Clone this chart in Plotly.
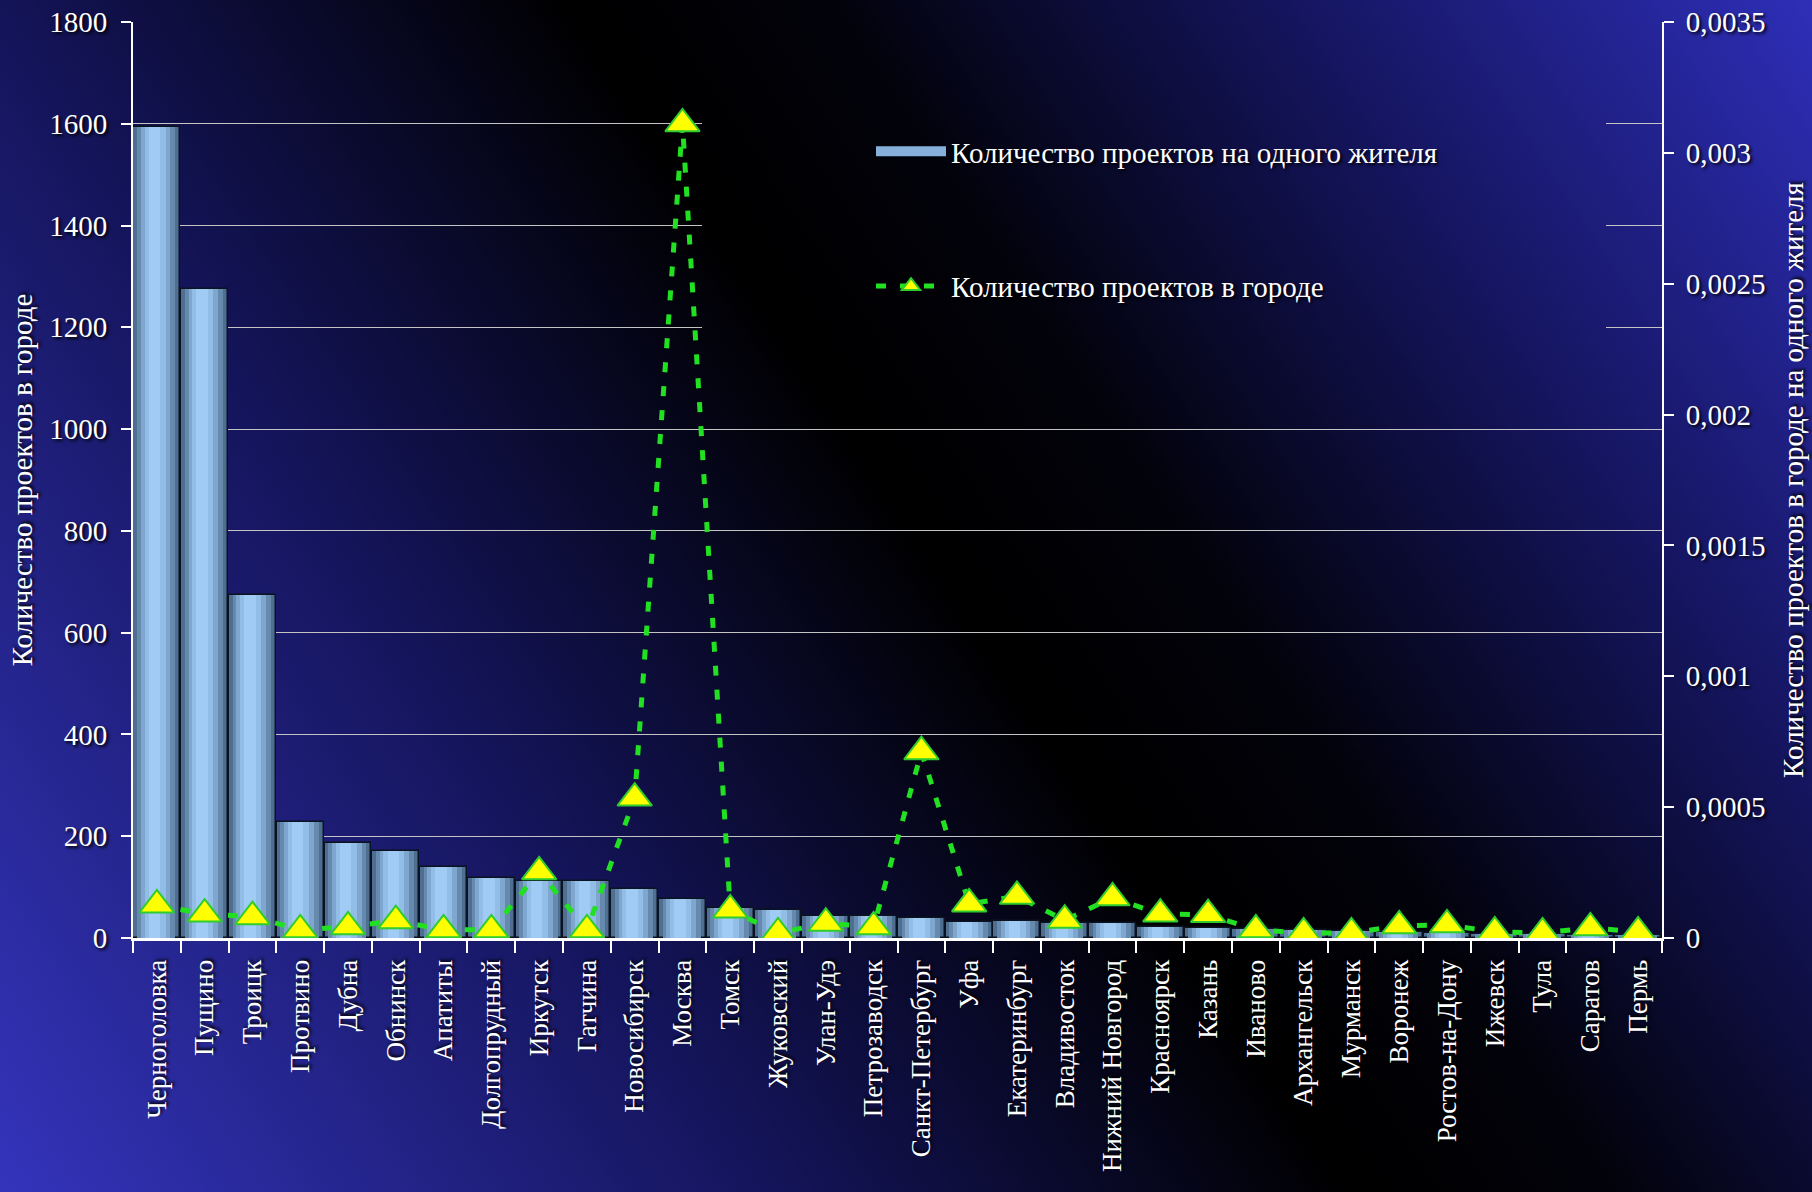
import base64

import plotly.graph_objects as go

cities = [
    "Черноголовка", "Пущино", "Троицк", "Протвино", "Дубна", "Обнинск", "Апатиты",
    "Долгопрудный", "Иркутск", "Гатчина", "Новосибирск", "Москва", "Томск",
    "Жуковский", "Улан-Удэ", "Петрозаводск", "Санкт-Петербург", "Уфа",
    "Екатеринбург", "Владивосток", "Нижний Новгород", "Красноярск", "Казань",
    "Иваново", "Архангельск", "Мурманск", "Воронеж", "Ростов-на-Дону", "Ижевск",
    "Тула", "Саратов", "Пермь",
]

# projects per resident (right axis)
per_resident = [
    0.00310, 0.00248, 0.00131, 0.000443, 0.000364, 0.000333, 0.000272,
    0.000229, 0.000218, 0.000216, 0.000187, 0.000150, 0.000115,
    0.000107, 0.0000836, 0.0000836, 0.0000758, 0.0000622,
    0.0000642, 0.0000583, 0.0000564, 0.0000428, 0.0000389,
    0.0000331, 0.0000292, 0.0000272, 0.0000233, 0.0000194, 0.0000156,
    0.0000136, 0.0000117, 0.0000097,
]

# projects in the city (left axis)
projects = [
    65, 47, 42, 16, 22, 34, 16,
    16, 130, 16, 275, 1600, 55,
    10, 29, 22, 366, 67,
    82, 35, 79, 47, 46,
    16, 10, 10, 24, 26, 12,
    10, 20, 12,
]

left_ticks = [0, 200, 400, 600, 800, 1000, 1200, 1400, 1600, 1800]
right_ticks = [0, 0.0005, 0.001, 0.0015, 0.002, 0.0025, 0.003, 0.0035]
right_labels = ["0", "0,0005", "0,001", "0,0015", "0,002", "0,0025", "0,003", "0,0035"]

W, H = 1812, 1192
L, R, T, B = 133, 150, 22, 254
PW, PH = W - L - R, H - T - B

SERIF = "Liberation Serif, Times New Roman, serif"
SHADOW = "2px 2px 3px rgba(0,0,0,0.95)"
BAR_NAME = "Количество проектов на одного жителя"
LINE_NAME = "Количество проектов в городе"


def bg_svg(x0, y0, w, h):
    svg = (
        f'<svg xmlns="http://www.w3.org/2000/svg" width="{w}" height="{h}" '
        f'viewBox="{x0} {y0} {w} {h}" preserveAspectRatio="none">'
        '<defs><linearGradient id="g" gradientUnits="userSpaceOnUse" '
        f'x1="0" y1="{H}" x2="{W}" y2="0">'
        '<stop offset="0" stop-color="#3434bc"/>'
        '<stop offset="0.3" stop-color="#14145a"/>'
        '<stop offset="0.52" stop-color="#000000"/>'
        '<stop offset="0.62" stop-color="#02020a"/>'
        '<stop offset="0.8" stop-color="#151560"/>'
        '<stop offset="1" stop-color="#2e2eb8"/>'
        '</linearGradient></defs>'
        f'<rect x="0" y="0" width="{W}" height="{H}" fill="url(#g)"/></svg>'
    )
    return "data:image/svg+xml;base64," + base64.b64encode(svg.encode()).decode()


def px_image(x0, y0, w, h, layer):
    return dict(
        source=bg_svg(x0, y0, w, h), xref="paper", yref="paper",
        x=(x0 - L) / PW, y=(H - B - y0) / PH, sizex=w / PW, sizey=h / PH,
        xanchor="left", yanchor="top", sizing="stretch", layer=layer,
    )


fig = go.Figure()

# bars with a fake horizontal gradient made of overlaid layers
bar_layers = [(0.98, "#4f6f92"), (0.8, "#6689ae"), (0.62, "#7ea6cf"),
              (0.44, "#92bde6"), (0.24, "#a0cbf4")]
for i, (w, col) in enumerate(bar_layers):
    fig.add_trace(go.Bar(
        x=cities, y=per_resident, yaxis="y",
        width=w, offset=-w / 2 - 0.07 * (1 - w),
        marker=dict(color=col, line=dict(color="#0b1220", width=1.5 if i == 0 else 0)),
        name=BAR_NAME, legendgroup="bars", showlegend=False,
    ))

# legend-only entry: wide bar swatch like the original
fig.add_trace(go.Scatter(
    x=[None], y=[None], yaxis="y", mode="lines", name=BAR_NAME, legendgroup="bars",
    line=dict(color="#86b0da", width=16),
))

fig.add_trace(go.Scatter(
    x=cities, y=projects, yaxis="y2", mode="lines+markers",
    name=LINE_NAME, legendgroup="line",
    line=dict(color="#22e022", width=5, dash="10px,14px"),
    marker=dict(symbol="triangle-up", size=30, color="#ffff00",
                line=dict(color="#2ecc2e", width=2)),
))

tickfont = dict(family=SERIF, size=29, color="white", shadow=SHADOW)
titlefont = dict(family=SERIF, size=29, color="white", shadow=SHADOW)

fig.update_layout(
    width=W, height=H,
    margin=dict(l=L, r=R, t=T, b=B, autoexpand=False),
    paper_bgcolor="black", plot_bgcolor="rgba(0,0,0,0)",
    barmode="overlay", bargap=0,
    showlegend=True,
    legend=dict(
        x=(871 - L) / PW, y=(H - B - 126) / PH, xanchor="left", yanchor="top",
        bgcolor="rgba(0,0,0,0)", traceorder="grouped", tracegroupgap=94,
        itemwidth=70, font=dict(family=SERIF, size=29, color="white", shadow=SHADOW),
    ),
    xaxis=dict(
        type="category", range=[-0.5, len(cities) - 0.5], automargin=False,
        showline=True, linecolor="white", linewidth=3,
        ticks="outside", tickson="boundaries", ticklen=12, tickwidth=2, tickcolor="white",
        tickangle=-90, showgrid=False, ticklabelstandoff=8,
        tickfont=dict(family=SERIF, size=27, color="white", shadow=SHADOW),
    ),
    yaxis=dict(
        side="right", range=[0, 0.0035], tickvals=right_ticks, ticktext=right_labels,
        automargin=False,
        showline=True, linecolor="white", linewidth=2, showgrid=False, zeroline=False,
        ticks="outside", ticklen=10, tickwidth=2, tickcolor="white", ticklabelstandoff=6,
        tickfont=tickfont,
        title=dict(text="Количество проектов в городе на одного жителя",
                   font=titlefont, standoff=18),
    ),
    yaxis2=dict(
        overlaying="y", side="left", range=[0, 1800], tickvals=left_ticks,
        automargin=False,
        showline=True, linecolor="white", linewidth=2,
        showgrid=True, gridcolor="#c4c4c4", gridwidth=1.3, zeroline=False,
        ticks="outside", ticklen=10, tickwidth=2, tickcolor="white", ticklabelstandoff=8,
        tickfont=tickfont,
        title=dict(text="Количество проектов в городе", font=titlefont, standoff=8),
    ),
    images=[px_image(0, 0, W, H, "below"), px_image(702, 92, 904, 270, "above")],
)

fig.write_html(
    "out.html",
    config={"displayModeBar": False},
    post_script=(
        "document.body.style.margin='0';document.body.style.background='#000';"
        "var d=document.getElementById('{plot_id}');"
        "d.style.position='fixed';d.style.top='0';d.style.left='0';"
    ),
)
